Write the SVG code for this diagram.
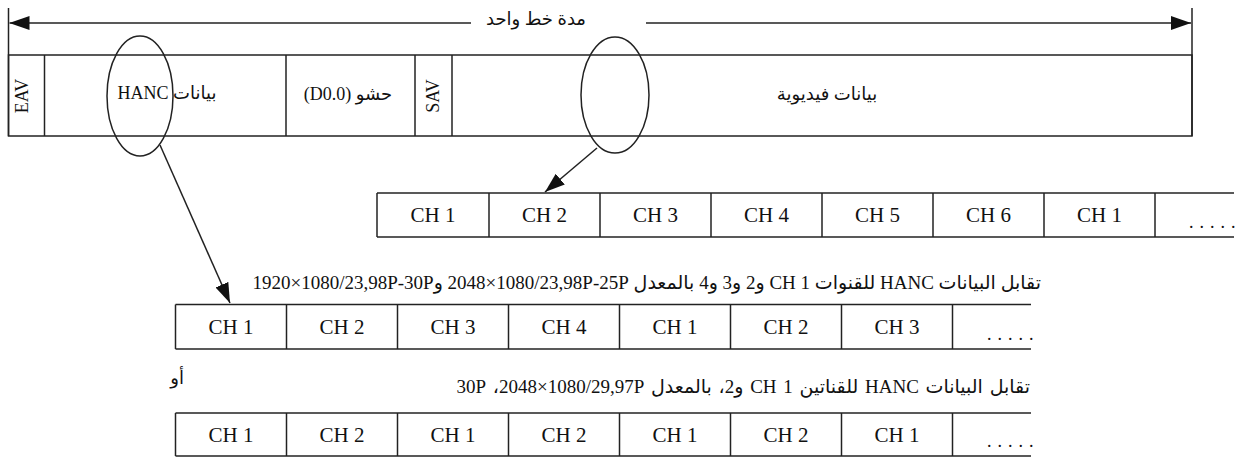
<svg xmlns="http://www.w3.org/2000/svg" width="1243" height="457" viewBox="0 0 1243 457">
<defs>
<style>
.ln{stroke:#222;stroke-width:1.5;fill:none}
.t{font-family:"Liberation Serif","DejaVu Sans",serif;font-size:18px;fill:#111}
.ch{font-size:21px}
.c{text-anchor:middle}
.ar{direction:rtl;unicode-bidi:embed}
.cap{font-size:19px}
.dots{font-family:"Liberation Serif",serif;font-size:18px;fill:#111;letter-spacing:6px}
</style>
<marker id="ah" viewBox="0 0 20 14" refX="20" refY="7" markerWidth="20" markerHeight="14" markerUnits="userSpaceOnUse" orient="auto">
<path d="M0,0 L20,7 L0,14 Z" fill="#111"/>
</marker>
</defs>
<rect width="1243" height="457" fill="#fff"/>

<g id="line-duration">
<line class="ln" x1="8.5" y1="8" x2="8.5" y2="136"/>
<line class="ln" x1="1192" y1="8" x2="1192" y2="136"/>
<text class="t c ar" x="536" y="25" font-size="14">مدة خط واحد</text>
</g>

<g id="line-frame">
<rect class="ln" x="8.5" y="55" width="1183.5" height="81"/>
<line class="ln" x1="44.5" y1="55" x2="44.5" y2="136"/>
<line class="ln" x1="286" y1="55" x2="286" y2="136"/>
<line class="ln" x1="415" y1="55" x2="415" y2="136"/>
<line class="ln" x1="452" y1="55" x2="452" y2="136"/>
</g>
<g id="eav"><text class="t c" transform="translate(28,96) rotate(-90)">EAV</text></g>
<g id="hanc"><text class="t c ar" x="167" y="99">بيانات HANC</text></g>
<g id="fill"><text class="t c ar" x="348" y="100">حشو (D0.0)</text></g>
<g id="sav"><text class="t c" transform="translate(439,96) rotate(-90)">SAV</text></g>
<g id="video"><text class="t c ar" x="827" y="100">بيانات فيديوية</text></g>

<g id="ellipse-hanc"><ellipse class="ln" cx="140" cy="96" rx="33" ry="60"/></g>
<g id="ellipse-video"><ellipse class="ln" cx="615" cy="95" rx="34" ry="58"/></g>

<g id="row-video">
<line class="ln" x1="377" y1="193" x2="1234" y2="193"/>
<line class="ln" x1="377" y1="237" x2="1234" y2="237"/>
<line class="ln" x1="377" y1="193" x2="377" y2="237"/>
<line class="ln" x1="489" y1="193" x2="489" y2="237"/>
<line class="ln" x1="600" y1="193" x2="600" y2="237"/>
<line class="ln" x1="711" y1="193" x2="711" y2="237"/>
<line class="ln" x1="822" y1="193" x2="822" y2="237"/>
<line class="ln" x1="933" y1="193" x2="933" y2="237"/>
<line class="ln" x1="1044" y1="193" x2="1044" y2="237"/>
<line class="ln" x1="1155" y1="193" x2="1155" y2="237"/>
<text class="t ch c" x="433" y="222">CH 1</text>
<text class="t ch c" x="544.5" y="222">CH 2</text>
<text class="t ch c" x="655.5" y="222">CH 3</text>
<text class="t ch c" x="766.5" y="222">CH 4</text>
<text class="t ch c" x="877.5" y="222">CH 5</text>
<text class="t ch c" x="988.5" y="222">CH 6</text>
<text class="t ch c" x="1099.5" y="222">CH 1</text>
<text class="dots" x="1189" y="228">.....</text>
</g>

<g id="caption-1"><text class="t cap ar" x="1041" y="289" text-anchor="start">تقابل البيانات HANC للقنوات 1 CH و2 و3 و4 بالمعدل &#x200E;2048×1080/23,98P-25P و&#x200E;1920×1080/23,98P-30P</text></g>

<g id="row-4ch">
<line class="ln" x1="175.5" y1="304.5" x2="1031" y2="304.5"/>
<line class="ln" x1="175.5" y1="349" x2="1031" y2="349"/>
<line class="ln" x1="175.5" y1="304.5" x2="175.5" y2="349"/>
<line class="ln" x1="286.5" y1="304.5" x2="286.5" y2="349"/>
<line class="ln" x1="397.5" y1="304.5" x2="397.5" y2="349"/>
<line class="ln" x1="508.5" y1="304.5" x2="508.5" y2="349"/>
<line class="ln" x1="619.5" y1="304.5" x2="619.5" y2="349"/>
<line class="ln" x1="730.5" y1="304.5" x2="730.5" y2="349"/>
<line class="ln" x1="841.5" y1="304.5" x2="841.5" y2="349"/>
<line class="ln" x1="952.5" y1="304.5" x2="952.5" y2="349"/>
<text class="t ch c" x="231" y="334">CH 1</text>
<text class="t ch c" x="342" y="334">CH 2</text>
<text class="t ch c" x="453" y="334">CH 3</text>
<text class="t ch c" x="564" y="334">CH 4</text>
<text class="t ch c" x="675" y="334">CH 1</text>
<text class="t ch c" x="786" y="334">CH 2</text>
<text class="t ch c" x="897" y="334">CH 3</text>
<text class="dots" x="987" y="340">.....</text>
</g>

<g id="or"><text class="t ar" x="184" y="384" text-anchor="start" font-size="18">أو</text></g>
<g id="caption-2"><text class="t cap ar" x="1030" y="393" text-anchor="start" word-spacing="2">تقابل البيانات HANC للقناتين 1 CH و2، بالمعدل &#x200E;2048×1080/29,97P، &#x200F;30P</text></g>

<g id="row-2ch">
<line class="ln" x1="175.5" y1="413" x2="1031" y2="413"/>
<line class="ln" x1="175.5" y1="456" x2="1031" y2="456"/>
<line class="ln" x1="175.5" y1="413" x2="175.5" y2="456"/>
<line class="ln" x1="286.5" y1="413" x2="286.5" y2="456"/>
<line class="ln" x1="397.5" y1="413" x2="397.5" y2="456"/>
<line class="ln" x1="508.5" y1="413" x2="508.5" y2="456"/>
<line class="ln" x1="619.5" y1="413" x2="619.5" y2="456"/>
<line class="ln" x1="730.5" y1="413" x2="730.5" y2="456"/>
<line class="ln" x1="841.5" y1="413" x2="841.5" y2="456"/>
<line class="ln" x1="952.5" y1="413" x2="952.5" y2="456"/>
<text class="t ch c" x="231" y="442">CH 1</text>
<text class="t ch c" x="342" y="442">CH 2</text>
<text class="t ch c" x="453" y="442">CH 1</text>
<text class="t ch c" x="564" y="442">CH 2</text>
<text class="t ch c" x="675" y="442">CH 1</text>
<text class="t ch c" x="786" y="442">CH 2</text>
<text class="t ch c" x="897" y="442">CH 1</text>
<text class="dots" x="987" y="447">.....</text>
</g>

<g id="connectors">
<line class="ln" x1="471" y1="23" x2="9.5" y2="23" marker-end="url(#ah)"/>
<line class="ln" x1="646" y1="23" x2="1191" y2="23" marker-end="url(#ah)"/>
<line class="ln" x1="597" y1="148" x2="545" y2="192" marker-end="url(#ah)"/>
<line class="ln" x1="160" y1="145" x2="230" y2="303" marker-end="url(#ah)"/>
</g>
</svg>
